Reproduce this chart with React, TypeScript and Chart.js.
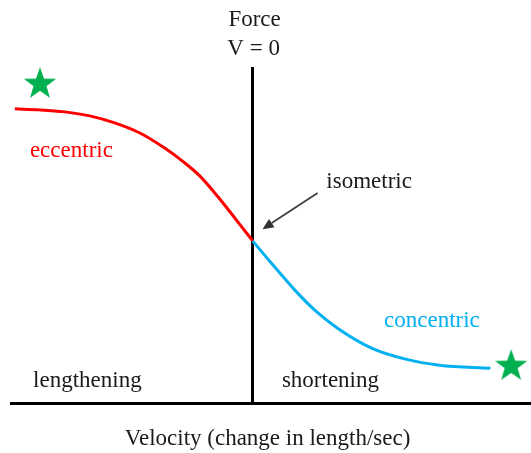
import { useEffect, useRef } from "react";
import { Chart, registerables } from "chart.js";

Chart.register(...registerables);

// Force–velocity relationship of muscle (velocity on x, force on y)
const eccentricVelocity = [-98.4, -88.1, -77.7, -67.4, -57.1, -46.7, -36.4, -28.5, -21.9, -13.6, -5.4, 0];
const eccentricForce = [87.8, 87.5, 86.9, 85.7, 83.6, 80.6, 76.1, 71.9, 67.8, 60.9, 53.4, 48.4];
const concentricVelocity = [0, 7, 19.8, 25.6, 35.6, 49.2, 63.3, 77.3, 98.4];
const concentricForce = [48.4, 42.4, 31.9, 27.8, 22.1, 16.4, 13.1, 11.3, 10.4];
const starVelocity = [-88, 107];
const starForce = [95.2, 11];

// Text annotations, anchored in data units (centre / baseline)
const labelText = [
  "Force",
  "V = 0",
  "eccentric",
  "isometric",
  "concentric",
  "lengthening",
  "shortening",
  "Velocity (change in length/sec)",
];
const labelVelocity = [0.8, 0.4, -75, 48.2, 74.2, -68.4, 32.2, 6.2];
const labelForce = [112.5, 103.9, 73.4, 64.2, 22.7, 4.8, 4.8, -12.5];
const labelColor = ["#1a1a1a", "#1a1a1a", "#ff0000", "#1a1a1a", "#00b0f0", "#1a1a1a", "#1a1a1a", "#1a1a1a"];

// Arrow pointing at the isometric point
const arrowFrom = [26.9, 62.7];
const arrowTo = [4.1, 51.9];

const RED = "#ff0000";
const BLUE = "#00b0f0";
const GREEN = "#00b050";
const FONT = '23px "Liberation Serif", "Times New Roman", serif';

function makeStar(r: number, color: string): HTMLCanvasElement {
  const size = Math.ceil(2 * r + 2);
  const c = document.createElement("canvas");
  c.width = size;
  c.height = size;
  const g = c.getContext("2d")!;
  g.translate(size / 2, size / 2);
  g.beginPath();
  for (let i = 0; i < 10; i++) {
    const a = -Math.PI / 2 + (i * Math.PI) / 5;
    const rad = i % 2 === 0 ? r : r * 0.4;
    const px = Math.cos(a) * rad;
    const py = Math.sin(a) * rad;
    if (i === 0) g.moveTo(px, py);
    else g.lineTo(px, py);
  }
  g.closePath();
  g.fillStyle = color;
  g.fill();
  return c;
}

const annotations = {
  id: "fvAnnotations",
  afterDraw(chart: any) {
    const { ctx } = chart;
    const xs = chart.scales.x;
    const ys = chart.scales.y;
    ctx.save();
    ctx.font = FONT;
    ctx.textAlign = "center";
    ctx.textBaseline = "alphabetic";
    labelText.forEach((t, i) => {
      ctx.fillStyle = labelColor[i];
      ctx.fillText(t, xs.getPixelForValue(labelVelocity[i]), ys.getPixelForValue(labelForce[i]));
    });

    const x1 = xs.getPixelForValue(arrowFrom[0]);
    const y1 = ys.getPixelForValue(arrowFrom[1]);
    const x2 = xs.getPixelForValue(arrowTo[0]);
    const y2 = ys.getPixelForValue(arrowTo[1]);
    const ang = Math.atan2(y2 - y1, x2 - x1);
    const head = 11;
    const half = 5;
    const bx = x2 - Math.cos(ang) * head;
    const by = y2 - Math.sin(ang) * head;
    ctx.strokeStyle = "#404040";
    ctx.fillStyle = "#303030";
    ctx.lineWidth = 1.8;
    ctx.beginPath();
    ctx.moveTo(x1, y1);
    ctx.lineTo(bx, by);
    ctx.stroke();
    ctx.beginPath();
    ctx.moveTo(x2, y2);
    ctx.lineTo(bx + Math.sin(ang) * half, by - Math.cos(ang) * half);
    ctx.lineTo(bx - Math.sin(ang) * half, by + Math.cos(ang) * half);
    ctx.closePath();
    ctx.fill();
    ctx.restore();
  },
};

export default function App() {
  const canvasRef = useRef<HTMLCanvasElement | null>(null);

  useEffect(() => {
    const canvas = canvasRef.current;
    if (!canvas) return;
    const star = makeStar(17, GREEN);
    const chart = new Chart(canvas, {
      type: "line",
      data: {
        datasets: [
          {
            label: "eccentric",
            data: eccentricVelocity.map((v, i) => ({ x: v, y: eccentricForce[i] })),
            borderColor: RED,
            borderWidth: 3,
            pointRadius: 0,
            cubicInterpolationMode: "monotone",
            fill: false,
          },
          {
            label: "concentric",
            data: concentricVelocity.map((v, i) => ({ x: v, y: concentricForce[i] })),
            borderColor: BLUE,
            borderWidth: 3,
            pointRadius: 0,
            cubicInterpolationMode: "monotone",
            fill: false,
          },
          {
            // image point style: the radius only gates drawing, the image sets the size
            label: "limits",
            data: starVelocity.map((v, i) => ({ x: v, y: starForce[i] })),
            showLine: false,
            pointStyle: star,
            pointRadius: 0.5,
            pointBorderWidth: 0,
            pointHoverRadius: 0.5,
            clip: false,
          } as any,
        ],
      },
      options: {
        responsive: false,
        animation: false,
        events: [],
        layout: { padding: { left: 11, right: 0, top: 68, bottom: 50 } },
        plugins: {
          legend: { display: false },
          tooltip: { enabled: false },
          title: { display: false },
        },
        scales: {
          x: {
            type: "linear",
            position: "bottom",
            min: -100,
            max: 115,
            ticks: { display: false },
            grid: { display: false, drawTicks: false },
            border: { display: true, color: "#000000", width: 3 },
          },
          y: {
            type: "linear",
            position: { x: 0 } as any,
            min: 0,
            max: 100,
            ticks: { display: false },
            grid: { display: false, drawTicks: false },
            border: { display: true, color: "#000000", width: 3 },
          },
        },
      },
      plugins: [annotations],
    });
    return () => chart.destroy();
  }, []);

  return (
    <div style={{ position: "absolute", left: 0, top: 0, width: 531, height: 453, background: "#ffffff" }}>
      <canvas ref={canvasRef} width={531} height={453} style={{ display: "block" }} />
    </div>
  );
}
